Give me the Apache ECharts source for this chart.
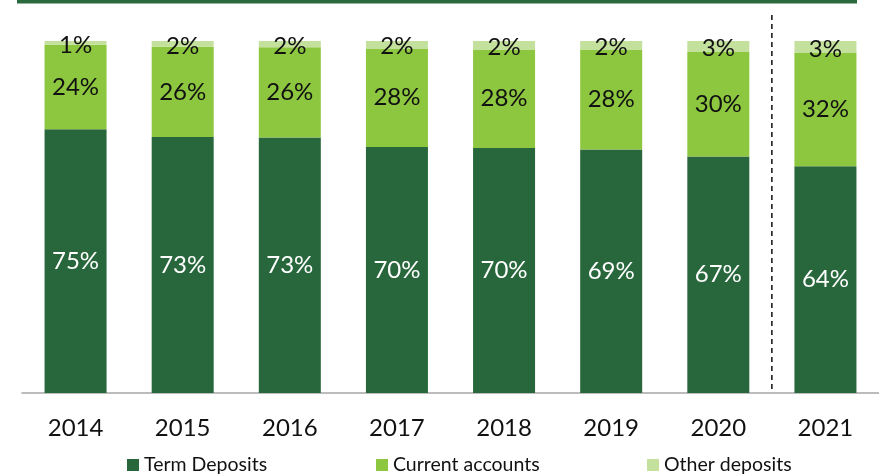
<!DOCTYPE html>
<html>
<head>
<meta charset="utf-8">
<script src="https://cdn.jsdelivr.net/npm/echarts@6/dist/echarts.min.js"></script>
<style>
  html, body { margin: 0; padding: 0; background: #fff; }
  #chart { width: 879px; height: 474px; }
</style>
</head>
<body>
<div id="chart"></div>
<script>
// years and deposit shares (%)
var years = ['2014', '2015', '2016', '2017', '2018', '2019', '2020', '2021'];
var termDeposits = [74.9, 72.7, 72.6, 69.9, 69.6, 69.2, 67.2, 64.4];
var currentAccounts = [24.0, 25.7, 25.6, 28.0, 28.0, 28.4, 29.7, 32.3];
var otherDeposits = [1.1, 1.6, 1.8, 2.1, 2.4, 2.4, 3.1, 3.3];

var font = 'Lato, "Open Sans", sans-serif';

function pct(p) {
	return Math.round(p.value) + '%';
}

var myChart = echarts.init(document.getElementById('chart'));

var option = {
	animation: false,
	textStyle: { fontFamily: font },
	grid: { left: 22, top: 41, width: 859, bottom: 81 },
	legend: [
		{ data: ['Term Deposits'], left: 127, top: 455 },
		{ data: ['Current accounts'], left: 376, top: 455 },
		{ data: ['Other deposits'], left: 647, top: 455 }
	].map(function(l) {
		l.itemWidth = 12;
		l.itemHeight = 12;
		l.itemGap = 6;
		l.padding = 0;
		l.icon = 'rect';
		l.textStyle = { fontSize: 19.5, color: '#111', fontFamily: font };
		return l;
	}),
	xAxis: {
		type: 'category',
		data: years,
		axisLine: { lineStyle: { color: '#a6a6a6', width: 1.5 } },
		axisTick: { show: false },
		axisLabel: { fontSize: 24, color: '#111', margin: 23, fontFamily: font }
	},
	yAxis: {
		type: 'value',
		min: 0,
		max: 100,
		show: false,
		splitLine: { show: false }
	},
	series: [
		{
			name: 'Term Deposits',
			type: 'bar',
			stack: 'dep',
			barWidth: 62,
			data: termDeposits,
			itemStyle: { color: '#28673c' },
			label: { show: true, position: 'inside', formatter: pct, color: '#fff', fontSize: 24, fontFamily: font }
		},
		{
			name: 'Current accounts',
			type: 'bar',
			stack: 'dep',
			data: currentAccounts,
			itemStyle: { color: '#8dc63f' },
			label: { show: true, position: 'inside', formatter: pct, color: '#111', fontSize: 24, fontFamily: font }
		},
		{
			name: 'Other deposits',
			type: 'bar',
			stack: 'dep',
			data: otherDeposits,
			itemStyle: { color: '#c3e09d' },
			label: { show: true, position: 'inside', formatter: pct, color: '#111', fontSize: 24, fontFamily: font, offset: [0, 2] }
		}
	]
};

myChart.setOption(option);

// dashed separator between 2020 and 2021, top green rule
var x0 = myChart.convertToPixel({ xAxisIndex: 0 }, '2020');
var x1 = myChart.convertToPixel({ xAxisIndex: 0 }, '2021');
var yBase = myChart.convertToPixel({ yAxisIndex: 0 }, 0);
var sepX = (x0 + x1) / 2;

myChart.setOption({
	graphic: [
		{
			type: 'rect',
			shape: { x: 17, y: 0, width: 840, height: 3.5 },
			style: { fill: '#2b6a3f' }
		},
		{
			type: 'line',
			shape: { x1: sepX, y1: 15, x2: sepX, y2: yBase },
			style: { stroke: '#111', lineWidth: 1.5, lineDash: [5, 4] }
		}
	]
});
</script>
</body>
</html>
